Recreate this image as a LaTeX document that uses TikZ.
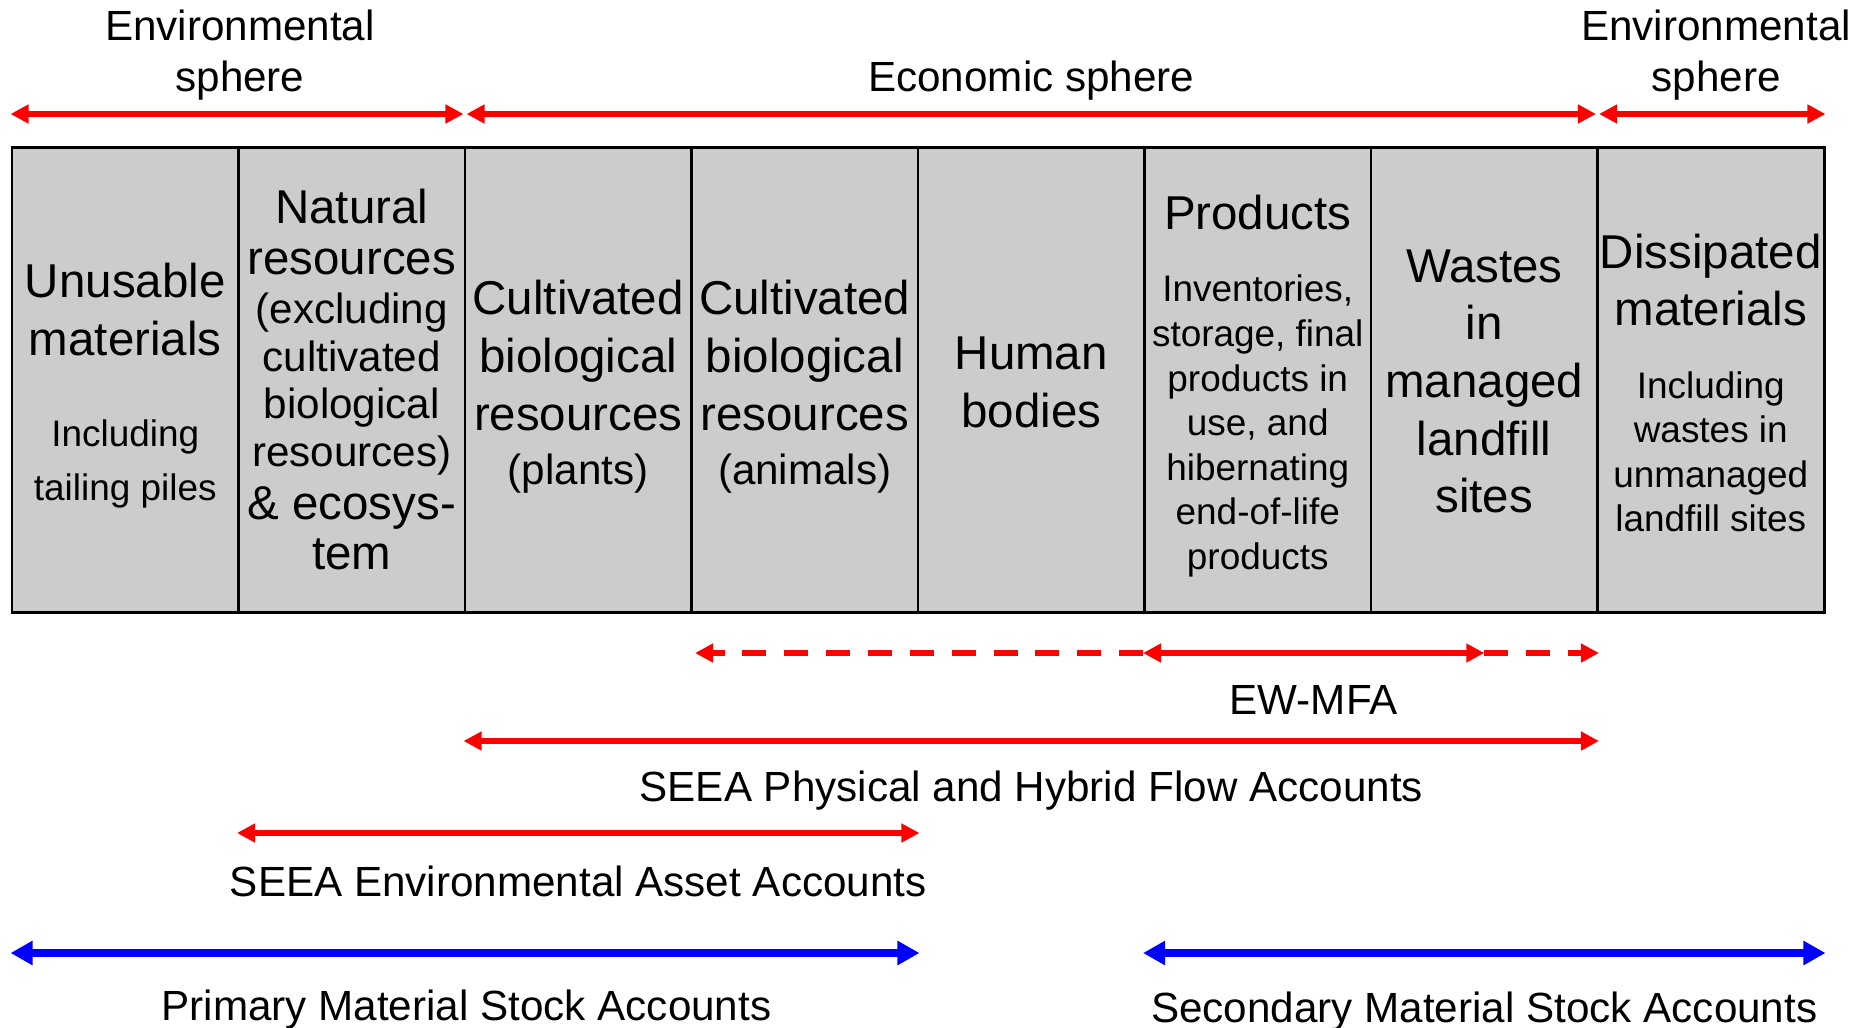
\documentclass[tikz,border=0pt]{standalone}
\usepackage{fontspec}
\setmainfont{Liberation Sans}
\usetikzlibrary{arrows.meta,calc}
\definecolor{cellgray}{RGB}{204,204,204}

\begin{document}
\begin{tikzpicture}[x=0.01cm,y=-0.01cm,
    cell/.style={draw,line width=.8pt,fill=cellgray,minimum width=2.265cm,minimum height=4.64cm,inner sep=0pt},
    bigtxt/.style={align=center,inner sep=0pt,font=\fontsize{13.5}{16.4}\selectfont},
    midtxt/.style={align=center,inner sep=0pt,font=\fontsize{12}{13.6}\selectfont},
    smalltxt/.style={align=center,inner sep=0pt,font=\fontsize{10.5}{12.66}\selectfont},
    lbl/.style={align=center,inner sep=0pt,font=\fontsize{12}{14.5}\selectfont},
    redtip/.tip={Triangle[length=1.8mm,width=1.8mm]},
    bluetip/.tip={Triangle[length=2.2mm,width=2.3mm]},
    span/.style={red,line width=1.75pt,redtip-redtip},
    dashspan/.style={red,line width=1.75pt,dash pattern=on 6.8pt off 5.1pt},
    stock/.style={blue,line width=2pt,bluetip-bluetip}]
  \useasboundingbox (0,0) rectangle (1864,1027);

  % the eight stocks
  \foreach \i in {1,...,8}
    \node[cell] (c\i) at ({12+226.5*(\i-.5)},380) {};

  \node[bigtxt] (t1a) at (c1 |- 0,309.5) {Unusable\\materials};
  \node[smalltxt,font=\fontsize{10.5}{15.4}\selectfont] (t1b) at (c1 |- 0,464) {Including\\tailing piles};
  \node[bigtxt,font=\fontsize{13.5}{14.5}\selectfont] (t2a) at (c2 |- 0,232) {Natural\\resources};
  \node[midtxt] (t2b) at (c2 |- 0,384) {(excluding\\cultivated\\biological\\resources)};
  \node[bigtxt,font=\fontsize{13.5}{14.2}\selectfont] (t2c) at (c2 |- 0,528) {\& ecosys-\\tem};
  \node[bigtxt] (t3a) at (c3 |- 0,355.5) {Cultivated\\biological\\resources};
  \node[midtxt] (t3b) at (c3 |- 0,473.5) {(plants)};
  \node[bigtxt] (t4a) at (c4 |- 0,355.5) {Cultivated\\biological\\resources};
  \node[midtxt] (t4b) at (c4 |- 0,473.5) {(animals)};
  \node[bigtxt] (t5) at (c5 |- 0,382.5) {Human\\bodies};
  \node[bigtxt] (t6a) at (c6 |- 0,213) {Products};
  \node[smalltxt] (t6b) at (c6 |- 0,426) {Inventories,\\storage, final\\products in\\use, and\\hibernating\\end-of-life\\products};
  \node[bigtxt] (t7) at (c7 |- 0,381.5) {Wastes\\in\\managed\\landfill\\sites};
  \node[bigtxt] (t8a) at (c8 |- 0,280) {Dissipated\\materials};
  \node[smalltxt] (t8b) at (c8 |- 0,452) {Including\\wastes in\\unmanaged\\landfill sites};

  % spheres
  \coordinate (top) at (0,114);
  \node[lbl] (envl) at (c1.east |- 0,55.5) {Environmental\\sphere};
  \node[lbl,anchor=base] (eco) at (c5 |- 0,91) {Economic sphere};
  \node[lbl] (envr) at (1716,55.5) {Environmental\\sphere};
  \draw[span,shorten >=.3mm] (c1.west |- top) -- (c2.east |- top);
  \draw[span,shorten <=.3mm,shorten >=.3mm] (c3.west |- top) -- (c7.east |- top);
  \draw[span,shorten <=.3mm] (c8.west |- top) -- (c8.east |- top);

  % accounts
  \coordinate (ew) at (0,653);
  \draw[dashspan,-redtip,shorten >=.5mm] (c6.west |- ew) -- (c4.west |- ew);
  \draw[span] (c6.west |- ew) -- (c7 |- ew);
  \draw[dashspan,-redtip] (c7 |- ew) -- (c7.east |- ew);
  \node[lbl,anchor=base] (ewmfa) at ($(c6.west |- 0,714)!.5!(c7 |- 0,714)$) {EW-MFA};

  \draw[span] (c3.west |- 0,741) -- (c7.east |- 0,741);
  \node[lbl,anchor=base] (phys) at (c5 |- 0,801) {SEEA Physical and Hybrid Flow Accounts};

  \draw[span] (c2.west |- 0,833) -- (c4.east |- 0,833);
  \node[lbl,anchor=base] (asset) at (c3 |- 0,896) {SEEA Environmental Asset Accounts};

  \draw[stock] (c1.west |- 0,953) -- (c4.east |- 0,953);
  \node[lbl,anchor=base] (prim) at (c2.east |- 0,1020) {Primary Material Stock Accounts};
  \draw[stock] (c6.west |- 0,953) -- (c8.east |- 0,953);
  \node[lbl,anchor=base] (sec) at (c7 |- 0,1022) {Secondary Material Stock Accounts};
\end{tikzpicture}
\end{document}
